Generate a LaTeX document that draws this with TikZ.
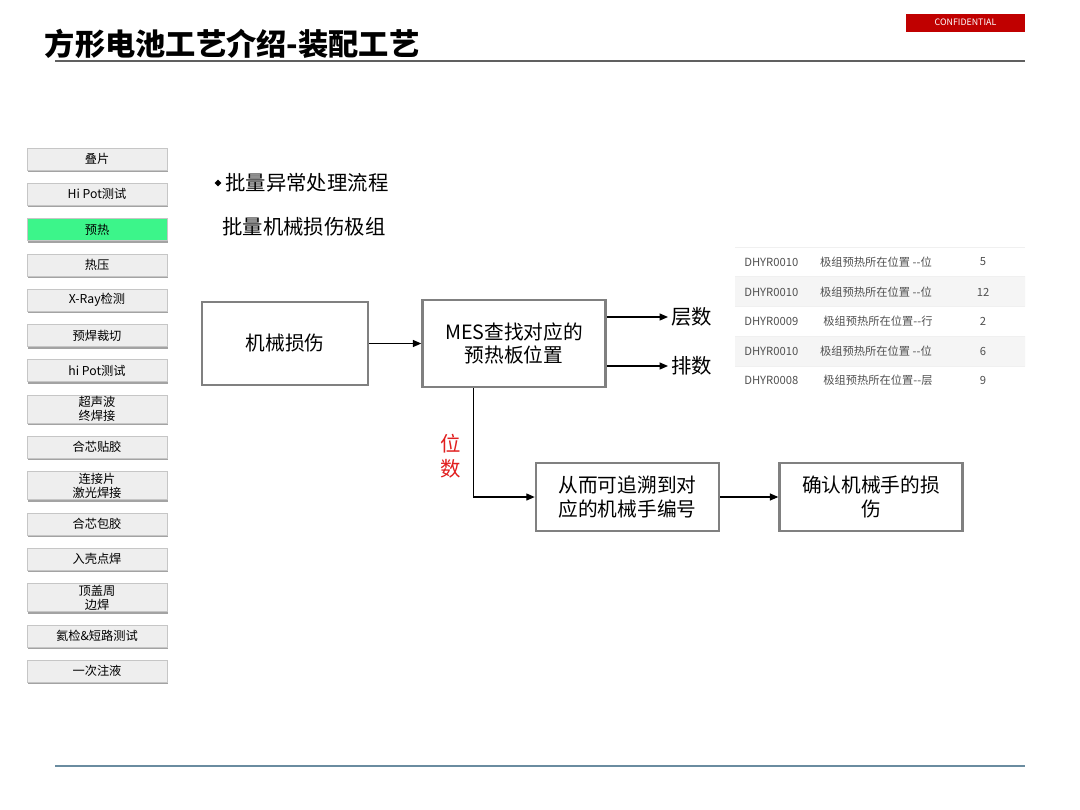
\documentclass[tikz,border=0pt]{standalone}
\usepackage{fontspec}
\setmainfont{Noto Sans CJK SC}
\definecolor{boxgray}{RGB}{128,128,128}
\definecolor{confred}{RGB}{192,0,0}
\definecolor{btngreen}{RGB}{60,245,138}
\definecolor{linegray}{RGB}{106,140,160}
\definecolor{numred}{RGB}{225,30,30}
\definecolor{rowgray}{RGB}{245,245,245}
\definecolor{tabtext}{RGB}{80,80,80}
\usetikzlibrary{arrows.meta, positioning, shapes.geometric, shadows}

\begin{document}
\begin{tikzpicture}[
  x=0.025cm, y=-0.025cm,
  node distance=0.318cm,
  btn/.style={draw=gray!45, fill=gray!13, minimum width=3.5cm, minimum height=0.55cm,
              inner sep=0pt, align=center, font=\fontsize{8.7}{10}\selectfont,
              drop shadow={shadow xshift=0.8pt, shadow yshift=-1.5pt, fill=gray!80, opacity=0.9}},
  btntall/.style={btn, minimum height=0.7cm},
  btncur/.style={btn, fill=btngreen},
  flow/.style={draw=boxgray, line width=1.8pt, fill=white, align=center,
               font=\fontsize{14}{17}\selectfont},
  lbl/.style={font=\fontsize{14.5}{18}\selectfont, inner sep=2pt},
  cell/.style={font=\fontsize{8}{10}\selectfont, text=tabtext, inner sep=0pt},
  arr/.style={-{Triangle[length=6pt, width=5pt]}, line width=0.8pt, black}
]
\useasboundingbox[fill=white] (0,0) rectangle (1080,810);

\node[anchor=west, font=\fontsize{21.5}{25}\selectfont\bfseries] (title) at (40,44) {方形电池工艺介绍-装配工艺};
\draw[line width=1.6pt, gray!75!black] (55,61) -- (1025,61);
\node[fill=confred, text=white, minimum width=2.975cm, minimum height=0.45cm, inner sep=0pt,
      font=\fontsize{6.3}{7}\selectfont] (conf) at (965.5,22.5) {CONFIDENTIAL};

\node[btn] (s1) at (97,159) {叠片};
\node[btn, below=of s1] (s2) {Hi Pot测试};
\node[btncur, below=of s2] (s3) {预热};
\node[btn, below=of s3] (s4) {热压};
\node[btn, below=of s4] (s5) {X-Ray检测};
\node[btn, below=of s5] (s6) {预焊裁切};
\node[btn, below=of s6] (s7) {hi Pot测试};
\node[btntall, below=of s7] (s8) {超声波\\终焊接};
\node[btn, below=of s8] (s9) {合芯贴胶};
\node[btntall, below=of s9] (s10) {连接片\\激光焊接};
\node[btn, below=of s10] (s11) {合芯包胶};
\node[btn, below=of s11] (s12) {入壳点焊};
\node[btntall, below=of s12] (s13) {顶盖周\\边焊};
\node[btn, below=of s13] (s14) {氦检\&短路测试};
\node[btn, below=of s14] (s15) {一次注液};

\node[diamond, fill=black, inner sep=0pt, minimum size=5pt] (dot) at (218,183) {};
\node[lbl, anchor=west, inner sep=0pt] (head) at (225,183) {批量异常处理流程};
\node[lbl, anchor=west, inner sep=0pt] (sub) at (222,227) {批量机械损伤极组};

\node[flow, minimum width=4.15cm, minimum height=2.075cm] (dmg) at (285,343.5) {机械损伤};
\node[flow, minimum width=4.575cm, minimum height=2.175cm, right=1.3cm of dmg] (mes) {MES查找对应的\\预热板位置};
\node[lbl, anchor=west] (layer) at (668,317) {层数};
\node[lbl, anchor=west] (row) at (668,366) {排数};
\node[lbl, text=numred, align=center, font=\fontsize{14.5}{18}\selectfont] (pos) at (451,456) {位\\数};
\node[flow, minimum width=4.575cm, minimum height=1.7cm, font=\fontsize{14}{16.5}\selectfont] (trace) at (627.5,497) {从而可追溯到对\\应的机械手编号};
\node[flow, minimum width=4.575cm, minimum height=1.7cm, font=\fontsize{14}{16.5}\selectfont, right=1.45cm of trace] (check) {确认机械手的损\\伤};

\draw[arr] (dmg) -- (mes);
\draw[arr] (mes.east |- layer.west) -- (layer);
\draw[arr] (mes.east |- row.west) -- (row);
\draw[arr] ([xshift=-1.025cm]mes.south) |- (trace.west);
\draw[arr] (trace) -- (check);

\fill[rowgray] (735,276) rectangle (1025,306) (735,336) rectangle (1025,366);
\draw[gray!12, line width=0.6pt] (735,247) -- (1025,247) (735,276) -- (1025,276) (735,306) -- (1025,306)
  (735,336) -- (1025,336) (735,366) -- (1025,366);
\node[cell, anchor=west] (r1a) at (744,262) {DHYR0010};
\node[cell] (r1b) at (876,262) {极组预热所在位置 -{}-位};
\node[cell] (r1c) at (983,262) {5};
\node[cell, anchor=west] (r2a) at (744,292) {DHYR0010};
\node[cell] (r2b) at (876,292) {极组预热所在位置 -{}-位};
\node[cell] (r2c) at (983,292) {12};
\node[cell, anchor=west] (r3a) at (744,321) {DHYR0009};
\node[cell] (r3b) at (878,321) {极组预热所在位置-{}-行};
\node[cell] (r3c) at (983,321) {2};
\node[cell, anchor=west] (r4a) at (744,351) {DHYR0010};
\node[cell] (r4b) at (876,351) {极组预热所在位置 -{}-位};
\node[cell] (r4c) at (983,351) {6};
\node[cell, anchor=west] (r5a) at (744,380) {DHYR0008};
\node[cell] (r5b) at (878,380) {极组预热所在位置-{}-层};
\node[cell] (r5c) at (983,380) {9};

\draw[linegray, line width=1.2pt] (55,766) -- (1025,766);
\end{tikzpicture}
\end{document}
